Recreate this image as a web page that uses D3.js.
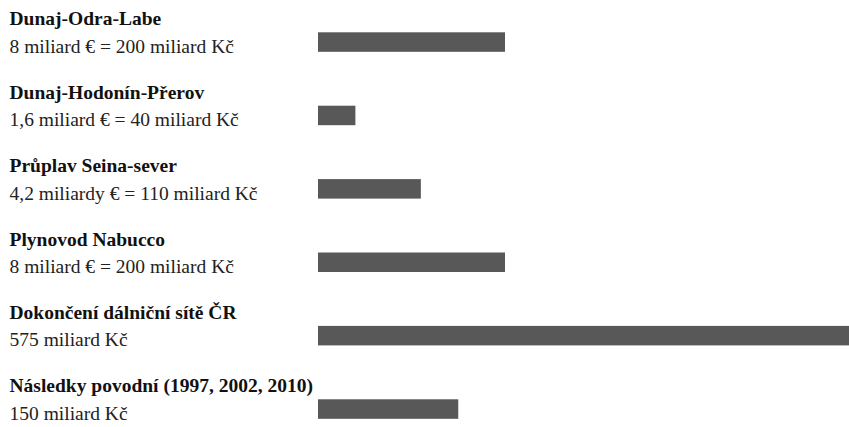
<!DOCTYPE html>
<html>
<head>
<meta charset="utf-8">
<script src="https://cdn.jsdelivr.net/npm/d3@7"></script>
<style>
  html, body { margin: 0; padding: 0; background: #fff; }
  svg { display: block; }
</style>
</head>
<body>
<script>
const titles = [
  "Dunaj-Odra-Labe",
  "Dunaj-Hodonín-Přerov",
  "Průplav Seina-sever",
  "Plynovod Nabucco",
  "Dokončení dálniční sítě ČR",
  "Následky povodní (1997, 2002, 2010)"
];
const subtitles = [
  "8 miliard € = 200 miliard Kč",
  "1,6 miliard € = 40 miliard Kč",
  "4,2 miliardy € = 110 miliard Kč",
  "8 miliard € = 200 miliard Kč",
  "575 miliard Kč",
  "150 miliard Kč"
];
const valuesCZK = [200, 40, 110, 200, 575, 150];

const W = 849, H = 427;
const svg = d3.select("body").append("svg").attr("width", W).attr("height", H);

const x = d3.scaleLinear().domain([0, 200]).range([318, 505]);
const y = d3.scalePoint().domain(d3.range(titles.length)).range([32.3, 399.3]);
const barH = 19.5;

const g = svg.selectAll("g.row").data(valuesCZK).join("g").attr("class", "row");

g.append("rect")
  .attr("x", x(0))
  .attr("y", (d, i) => y(i))
  .attr("width", d => x(d) - x(0))
  .attr("height", barH)
  .attr("fill", "#585858");

g.append("text")
  .attr("x", 9.5)
  .attr("y", (d, i) => y(i) - 7)
  .attr("font-family", "'Liberation Serif', 'Times New Roman', serif")
  .attr("font-size", "19.5px")
  .attr("font-weight", "bold")
  .attr("fill", "#111")
  .text((d, i) => titles[i]);

g.append("text")
  .attr("x", 9.5)
  .attr("y", (d, i) => y(i) + 20.5)
  .attr("font-family", "'Liberation Serif', 'Times New Roman', serif")
  .attr("font-size", "19.5px")
  .attr("fill", "#222")
  .text((d, i) => subtitles[i]);
</script>
</body>
</html>
